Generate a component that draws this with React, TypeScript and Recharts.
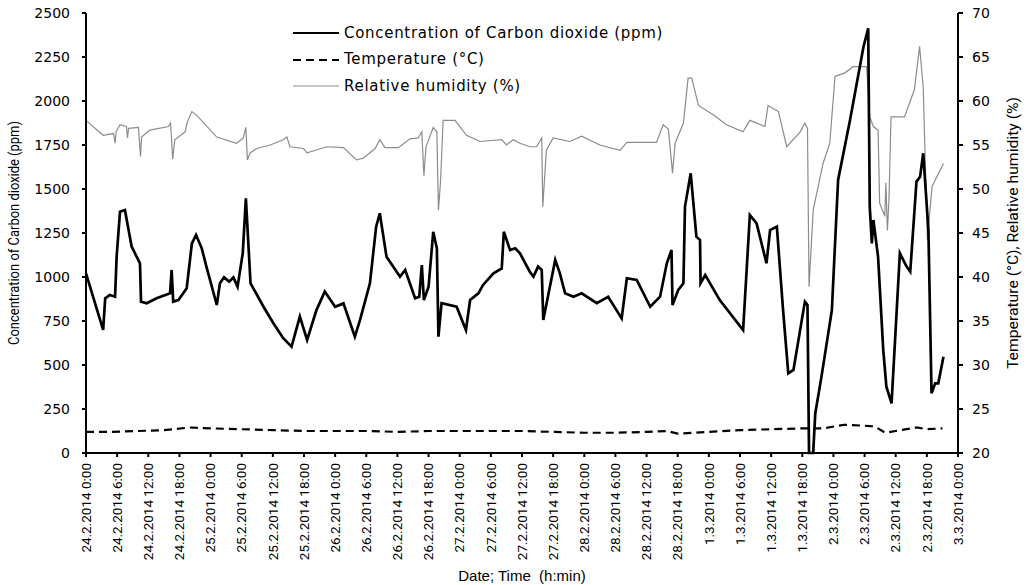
import React from 'react';
import { LineChart, Line, XAxis, YAxis } from 'recharts';

// x values are hours after 24.2.2014 0:00
const tickLabels = [
  '24.2.2014 0:00', '24.2.2014 6:00', '24.2.2014 12:00', '24.2.2014 18:00',
  '25.2.2014 0:00', '25.2.2014 6:00', '25.2.2014 12:00', '25.2.2014 18:00',
  '26.2.2014 0:00', '26.2.2014 6:00', '26.2.2014 12:00', '26.2.2014 18:00',
  '27.2.2014 0:00', '27.2.2014 6:00', '27.2.2014 12:00', '27.2.2014 18:00',
  '28.2.2014 0:00', '28.2.2014 6:00', '28.2.2014 12:00', '28.2.2014 18:00',
  '1.3.2014 0:00', '1.3.2014 6:00', '1.3.2014 12:00', '1.3.2014 18:00',
  '2.3.2014 0:00', '2.3.2014 6:00', '2.3.2014 12:00', '2.3.2014 18:00',
  '3.3.2014 0:00',
];
const tickHours = tickLabels.map((_, i) => i * 6);

const co2Ticks = [0, 250, 500, 750, 1000, 1250, 1500, 1750, 2000, 2250, 2500];
const rightTicks = [20, 25, 30, 35, 40, 45, 50, 55, 60, 65, 70];

const co2Hours = [
  0, 3.3, 3.7, 4.6, 5.6, 5.9, 6.55, 7.5, 8.8, 10.4, 10.6, 11.7, 13.6, 16.2, 16.5, 16.8,
  17.8, 19.4, 20.4, 21.2, 22.3, 23.2, 25.2, 25.8, 26.6, 27.6, 28.4, 29.2, 30.2, 30.8,
  31.7, 34.2, 36.1, 38.0, 39.6, 41.2, 42.6, 44.4, 46.0, 48.0, 49.6, 51.8, 52.8, 54.7,
  55.9, 56.6, 57.3, 57.9, 60.5, 61.5, 63.4, 64.2, 64.7, 65.1, 66.0, 66.9, 67.6, 67.9,
  68.5, 71.4, 73.2, 74.0, 75.6, 76.5, 78.5, 80.1, 80.5, 81.7, 82.7, 83.6, 85.5, 86.2,
  87.1, 87.8, 88.1, 90.4, 91.3, 92.3, 93.9, 95.5, 98.4, 100.6, 103.2, 104.2, 106.1,
  108.7, 110.6, 111.9, 112.8, 113.0, 114.1, 115.1, 115.4, 116.5, 117.6, 118.3, 118.4,
  119.3, 122.1, 126.6, 127.9, 129.2, 131.1, 131.8, 133.1, 134.3, 135.3, 136.3, 138.5,
  139.0, 139.3, 140.1, 140.5, 141.7, 143.7, 144.9, 147.2, 149.8, 150.7, 151.0, 151.4,
  151.7, 152.6, 153.6, 154.2, 155.2, 156.8, 158.1, 158.8, 160.0, 160.7, 161.3, 162.3,
  162.9, 163.6, 164.2, 165.2,
];
const co2Values = [
  1021, 699, 879, 898, 888, 1115, 1371, 1381, 1172, 1078, 860, 851, 879, 907, 1040, 860,
  869, 936, 1191, 1239, 1163, 1059, 841, 964, 998, 973, 998, 945, 1135, 1447,
  964, 831, 737, 652, 604, 775, 642, 812, 917, 831, 850, 661, 756, 964,
  1286, 1362, 1229, 1115, 1002, 1040, 879, 888, 1068, 869, 945, 1257, 1163, 661,
  851, 831, 699, 869, 907, 955, 1021, 1049, 1257, 1153, 1163, 1135, 1030, 1002,
  1059, 1040, 756, 1097, 1021, 907, 888, 907, 851, 888, 765, 993, 983,
  831, 888, 1078, 1153, 841, 926, 964, 1400, 1589, 1229, 1210, 964,
  1011, 869, 699, 1352, 1305, 1078, 1267, 1286, 812, 453, 472, 860,
  841, 0, 0, 225, 434, 812, 1551, 1892, 2309, 2413, 1400, 1191,
  1324, 1115, 585, 377, 282, 1135, 1059, 1030, 1542, 1570, 1703, 1267,
  339, 396, 396, 547,
];

const tempHours = [
  0, 5, 10, 15, 20, 24, 30, 36, 42, 48, 54, 60, 66, 72, 78, 84, 90, 96, 102, 108, 112,
  114, 120, 126, 132, 138, 142, 146, 150, 152, 154, 156, 160, 162, 165,
];
const tempValues = [
  22.4, 22.4, 22.5, 22.6, 22.9, 22.8, 22.7, 22.6, 22.5, 22.5, 22.5, 22.4, 22.5, 22.5,
  22.5, 22.5, 22.4, 22.3, 22.3, 22.4, 22.5, 22.2, 22.4, 22.6, 22.7, 22.8, 22.8, 23.2,
  23.1, 23.0, 22.3, 22.5, 22.9, 22.7, 22.8,
];

const rhHours = [
  0, 3.3, 5.3, 5.6, 5.8, 6.55, 7.8, 8.0, 8.2, 10.1, 10.5, 10.7, 12.3, 15.9, 16.3, 16.7,
  17.1, 19.1, 19.5, 20.4, 21.3, 25.2, 29.0, 30.3, 30.8, 31.1, 31.6, 32.9, 35.5, 38.0,
  38.7, 39.3, 41.9, 42.6, 46.4, 49.6, 52.1, 53.4, 55.7, 56.6, 57.6, 60.2, 62.4, 64.0,
  64.7, 65.1, 65.5, 66.9, 67.6, 67.9, 68.3, 68.8, 71.1, 73.3, 75.9, 80.1, 81.0, 82.3,
  83.6, 85.5, 86.8, 87.8, 88.0, 88.7, 90.0, 93.2, 95.5, 99.0, 102.9, 104.2, 109.9,
  111.2, 112.2, 113.0, 113.5, 115.1, 116.0, 116.7, 118.0, 120.9, 123.4, 126.6, 127.9,
  130.8, 131.4, 133.4, 135.0, 137.6, 138.5, 139.0, 139.3, 140.1, 142.0, 143.3, 144.3,
  146.2, 147.8, 150.4, 151.0, 151.7, 152.6, 152.9, 153.9, 154.1, 154.4, 154.7, 155.1,
  157.7, 159.6, 160.6, 161.3, 162.1, 163.0, 165.2,
];
const rhValues = [
  57.8, 56.1, 56.3, 55.2, 56.5, 57.3, 57.1, 55.8, 56.9, 57.0, 53.7, 55.9, 56.7, 57.1,
  57.5, 53.4, 55.6, 56.5, 57.6, 58.8, 58.4, 55.9, 55.2, 55.8, 57.0, 53.3, 54.1, 54.6,
  55.0, 55.6, 55.9, 54.8, 54.6, 54.1, 54.8, 54.7, 53.3, 53.5, 54.6, 55.6, 54.7, 54.7,
  55.7, 55.8, 56.5, 51.5, 54.8, 57.0, 56.5, 47.6, 50.8, 57.8, 57.8, 56.1, 55.4, 55.6,
  55.0, 55.6, 55.2, 54.8, 54.8, 55.8, 48.0, 54.4, 55.8, 55.4, 56.0, 55.0, 54.4, 55.3,
  55.3, 57.3, 56.8, 51.8, 55.2, 57.5, 62.6, 62.6, 59.5, 58.4, 57.3, 56.5, 57.8, 57.1,
  59.5, 58.8, 54.8, 56.5, 57.5, 56.9, 38.9, 47.6, 52.9, 55.2, 62.8, 63.2, 63.9, 63.9,
  58.2, 57.1, 56.7, 48.4, 46.9, 50.7, 45.3, 48.8, 58.2, 58.2, 61.3, 66.2, 61.6, 44.2,
  50.3, 52.9,
];

const co2Data = co2Hours.map((h, i) => ({ h, v: co2Values[i] }));
const tempData = tempHours.map((h, i) => ({ h, v: tempValues[i] }));
const rhData = rhHours.map((h, i) => ({ h, v: rhValues[i] }));

const legendItems = [
  { name: 'Concentration of Carbon dioxide (ppm)', color: '#000', width: 2.2, dash: undefined },
  { name: 'Temperature (°C)', color: '#000', width: 2.2, dash: '8 5' },
  { name: 'Relative humidity (%)', color: '#8c8c8c', width: 1.2, dash: undefined },
];

const tickFont = 'DejaVu Sans, Verdana, sans-serif';
const narrowFont = 'Roboto, Liberation Sans, Arial, sans-serif';

const DateTick = (props: any) => {
  const { x, y, payload } = props;
  const label = tickLabels[tickHours.indexOf(payload.value)] ?? '';
  return (
    <text
      x={x}
      y={y}
      transform={`rotate(-90 ${x} ${y})`}
      textAnchor="end"
      dy="0.35em"
      fontSize={13.5}
      fontFamily={narrowFont}
      fill="#000"
    >
      {label}
    </text>
  );
};

const AxisTitle = (props: any) => {
  const { viewBox, text, side, length } = props;
  const vb = viewBox || { x: 0, y: 13, width: 86, height: 440 };
  const cx = side === 'left' ? vb.x + 14 : vb.x + vb.width - 13;
  const cy = vb.y + vb.height / 2;
  return (
    <text
      x={cx}
      y={cy}
      transform={`rotate(-90 ${cx} ${cy})`}
      textAnchor="middle"
      dominantBaseline="central"
      textLength={length}
      lengthAdjust="spacingAndGlyphs"
      fontSize={14.5}
      fontFamily={narrowFont}
      fill="#000"
    >
      {text}
    </text>
  );
};

export default function App() {
  return (
    <div style={{ position: 'absolute', left: 0, top: 0, width: 1026, height: 585, background: '#fff' }}>
      <LineChart width={1026} height={585} margin={{ top: 13, right: 0, left: 0, bottom: 0 }}>
        <XAxis
          dataKey="h"
          type="number"
          domain={[0, 168]}
          ticks={tickHours}
          interval={0}
          height={132}
          tick={<DateTick />}
          tickSize={4}
          tickMargin={6}
          stroke="#000"
          strokeWidth={2}
          allowDuplicatedCategory={false}
          label={{
            value: 'Date; Time \u00a0(h:min)',
            position: 'insideBottom',
            offset: 4,
            style: { fontFamily: 'Liberation Sans, Arial, sans-serif', fontSize: 15, fill: '#000' },
          }}
        />
        <YAxis
          yAxisId="left"
          width={86}
          domain={[0, 2500]}
          ticks={co2Ticks}
          interval={0}
          tickSize={4}
          tickMargin={12}
          stroke="#000"
          strokeWidth={2}
          tick={{ fontFamily: tickFont, fontSize: 14, fill: '#000' }}
          label={<AxisTitle side="left" text="Concentration of Carbon dioxide (ppm)" length={224} />}
        />
        <YAxis
          yAxisId="right"
          orientation="right"
          width={68}
          domain={[20, 70]}
          ticks={rightTicks}
          interval={0}
          tickSize={5}
          tickMargin={9}
          stroke="#000"
          strokeWidth={2}
          tick={{ fontFamily: tickFont, fontSize: 14, fill: '#000' }}
          label={<AxisTitle side="right" text="Temperature (°C), Relative humidity (%)" length={272} />}
        />
        <Line
          yAxisId="right"
          data={rhData}
          dataKey="v"
          name="Relative humidity (%)"
          type="linear"
          stroke="#8c8c8c"
          strokeWidth={1.2}
          dot={false}
          isAnimationActive={false}
        />
        <Line
          yAxisId="right"
          data={tempData}
          dataKey="v"
          name="Temperature (°C)"
          type="linear"
          stroke="#000"
          strokeWidth={2.2}
          strokeDasharray="8 5"
          dot={false}
          isAnimationActive={false}
        />
        <Line
          yAxisId="left"
          data={co2Data}
          dataKey="v"
          name="Concentration of Carbon dioxide (ppm)"
          type="linear"
          stroke="#000"
          strokeWidth={2.7}
          dot={false}
          isAnimationActive={false}
        />
      </LineChart>
      <div
        style={{
          position: 'absolute',
          left: 293,
          top: 20,
          fontFamily: tickFont,
          fontSize: 15,
          letterSpacing: 0.7,
          color: '#000',
          lineHeight: 1,
        }}
      >
        {legendItems.map((item) => (
          <div key={item.name} style={{ display: 'flex', alignItems: 'center', height: 26.5 }}>
            <svg width={46} height={10}>
              <line x1={0} y1={5} x2={46} y2={5} stroke={item.color} strokeWidth={item.width} strokeDasharray={item.dash} />
            </svg>
            <span style={{ marginLeft: 5, whiteSpace: 'nowrap' }}>{item.name}</span>
          </div>
        ))}
      </div>
    </div>
  );
}
